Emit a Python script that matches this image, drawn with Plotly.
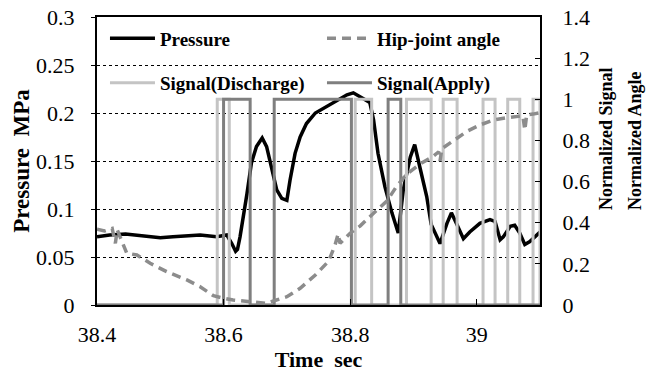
import plotly.graph_objects as go

# ---------------- data ----------------
# Pressure (MPa) vs time (s)
t_pressure = [38.400, 38.420, 38.445, 38.470, 38.500, 38.520, 38.550, 38.563, 38.589, 38.605,
              38.613, 38.619, 38.622, 38.626, 38.637, 38.644, 38.652, 38.661, 38.668, 38.676,
              38.684, 38.692, 38.700, 38.705, 38.713, 38.721, 38.731, 38.745, 38.758, 38.770,
              38.784, 38.795, 38.805, 38.813, 38.831, 38.837, 38.844, 38.855, 38.866, 38.876,
              38.884, 38.895, 38.902, 38.910, 38.921, 38.928, 38.942, 38.953, 38.960, 38.968,
              38.979, 38.989, 39.005, 39.021, 39.029, 39.037, 39.042, 39.053, 39.060, 39.068,
              39.076, 39.084, 39.095, 39.100]
pressure = [0.071, 0.073, 0.074, 0.072, 0.070, 0.071, 0.072, 0.073, 0.071, 0.073,
            0.064, 0.056, 0.058, 0.071, 0.116, 0.148, 0.165, 0.174, 0.165, 0.141,
            0.120, 0.111, 0.109, 0.130, 0.158, 0.175, 0.189, 0.200, 0.205, 0.209,
            0.215, 0.219, 0.221, 0.218, 0.211, 0.193, 0.158, 0.123, 0.096, 0.075,
            0.120, 0.154, 0.167, 0.144, 0.113, 0.084, 0.064, 0.085, 0.096, 0.085,
            0.069, 0.076, 0.085, 0.089, 0.087, 0.068, 0.071, 0.082, 0.083, 0.075,
            0.063, 0.066, 0.073, 0.076]

# Normalized hip-joint angle vs time (s)
t_angle = [38.400, 38.412, 38.424, 38.429, 38.432, 38.440, 38.447, 38.463, 38.484, 38.510,
           38.542, 38.563, 38.584, 38.600, 38.615, 38.642, 38.668, 38.681, 38.700, 38.721,
           38.745, 38.766, 38.776, 38.781, 38.784, 38.800, 38.816, 38.837, 38.858, 38.873,
           38.889, 38.910, 38.930, 38.940, 38.942, 38.945, 38.963, 38.984, 39.005, 39.026,
           39.047, 39.068, 39.073, 39.076, 39.079, 39.089, 39.100]
angle = [0.368, 0.360, 0.372, 0.300, 0.365, 0.300, 0.252, 0.243, 0.203, 0.162,
         0.122, 0.089, 0.045, 0.033, 0.024, 0.016, 0.008, 0.022, 0.040, 0.081,
         0.146, 0.213, 0.290, 0.345, 0.300, 0.349, 0.385, 0.446, 0.505, 0.575,
         0.635, 0.685, 0.720, 0.745, 0.700, 0.760, 0.800, 0.843, 0.875, 0.899,
         0.910, 0.918, 0.920, 0.850, 0.925, 0.928, 0.935]

# Signal pulses (on = 1): start / end times
discharge_start = [38.590, 38.808, 38.889, 38.947, 39.010, 39.049, 39.089]
discharge_end   = [38.609, 38.834, 38.928, 38.969, 39.029, 39.068, 39.100]
apply_start = [38.600, 38.680, 38.860]
apply_end   = [38.642, 38.802, 38.880]

t_min, t_max = 38.4, 39.1
x_ticks = [38.4, 38.6, 38.8, 39.0]
x_tick_text = ["38.4", "38.6", "38.8", "39"]


def step_series(starts, ends):
    xs, ys = [t_min], [0]
    for s, e in zip(starts, ends):
        xs += [s, s, e, e]
        ys += [0, 1, 1, 0]
    xs.append(t_max)
    ys.append(0)
    return xs, ys


xd, yd = step_series(discharge_start, discharge_end)
xa, ya = step_series(apply_start, apply_end)

FONT = "Liberation Serif, Times New Roman, Times, serif"

fig = go.Figure()
fig.add_trace(go.Scatter(x=xd, y=yd, yaxis="y2", mode="lines", name="Signal(Discharge)",
                         line=dict(color="#c4c4c4", width=3), legend="legend2"))
fig.add_trace(go.Scatter(x=xa, y=ya, yaxis="y2", mode="lines", name="Signal(Apply)",
                         line=dict(color="#7f7f7f", width=3), legend="legend2"))
fig.add_trace(go.Scatter(x=t_angle, y=angle, yaxis="y2", mode="lines", name="Hip-joint angle",
                         line=dict(color="#8c8c8c", width=3.5, dash="9px,6px"), legend="legend"))
fig.add_trace(go.Scatter(x=t_pressure, y=pressure, mode="lines", name="Pressure",
                         line=dict(color="black", width=3.5), legend="legend"))

tickfont = dict(family=FONT, size=22, color="black")
legfont = dict(family=FONT, size=19, color="black", weight="bold")

fig.update_layout(
    template="none",
    width=662, height=374,
    margin=dict(l=97, r=122, t=17, b=69, autoexpand=False),
    paper_bgcolor="white", plot_bgcolor="white",
    font=dict(family=FONT, color="black"),
    xaxis=dict(range=[t_min, t_max], tickvals=x_ticks, ticktext=x_tick_text, automargin=False,
               ticks="inside", ticklen=6, tickcolor="black", tickwidth=1,
               showline=True, linecolor="black", linewidth=2, mirror=True,
               showgrid=False, zeroline=False, tickfont=tickfont, ticklabelstandoff=9,
               title=dict(text="<b>Time  sec</b>", font=dict(family=FONT, size=22, color="black"),
                          standoff=4)),
    yaxis=dict(range=[0, 0.3], dtick=0.05, ticks="outside", ticklen=4, tickcolor="black",
               automargin=False, tickwidth=1,
               showline=True, linecolor="black", linewidth=2,
               showgrid=True, gridcolor="black", griddash="dot", gridwidth=1,
               zeroline=False, tickfont=tickfont, ticklabelstandoff=12,
               title=dict(text="<b>Pressure  MPa</b>", font=dict(family=FONT, size=23, color="black"),
                          standoff=0)),
    yaxis2=dict(range=[0, 1.4], dtick=0.2, overlaying="y", side="right",
                ticks="inside", ticklen=5, tickcolor="black", automargin=False, tickwidth=1,
                showline=True, linecolor="black", linewidth=2,
                showgrid=False, zeroline=False, tickfont=tickfont, ticklabelstandoff=16),
    legend=dict(orientation="h", x=0.018, y=0.926, xanchor="left", yanchor="middle",
                bgcolor="rgba(0,0,0,0)", font=legfont, itemwidth=45, entrywidth=157,
                traceorder="reversed"),
    legend2=dict(orientation="h", x=0.018, y=0.771, xanchor="left", yanchor="middle",
                 bgcolor="rgba(0,0,0,0)", font=legfont, itemwidth=45, entrywidth=157,
                 traceorder="normal"),
    annotations=[
        dict(text="<b>Normalized Signal</b>", xref="paper", yref="paper",
             x=(606 - 97) / 443, y=(305 - 139) / 288, showarrow=False, textangle=-90,
             xanchor="center", yanchor="middle", font=dict(family=FONT, size=18, color="black")),
        dict(text="<b>Normalized Angle</b>", xref="paper", yref="paper",
             x=(635 - 97) / 443, y=(305 - 141) / 288, showarrow=False, textangle=-90,
             xanchor="center", yanchor="middle", font=dict(family=FONT, size=18, color="black")),
    ],
)

fig.write_html("out.html")
